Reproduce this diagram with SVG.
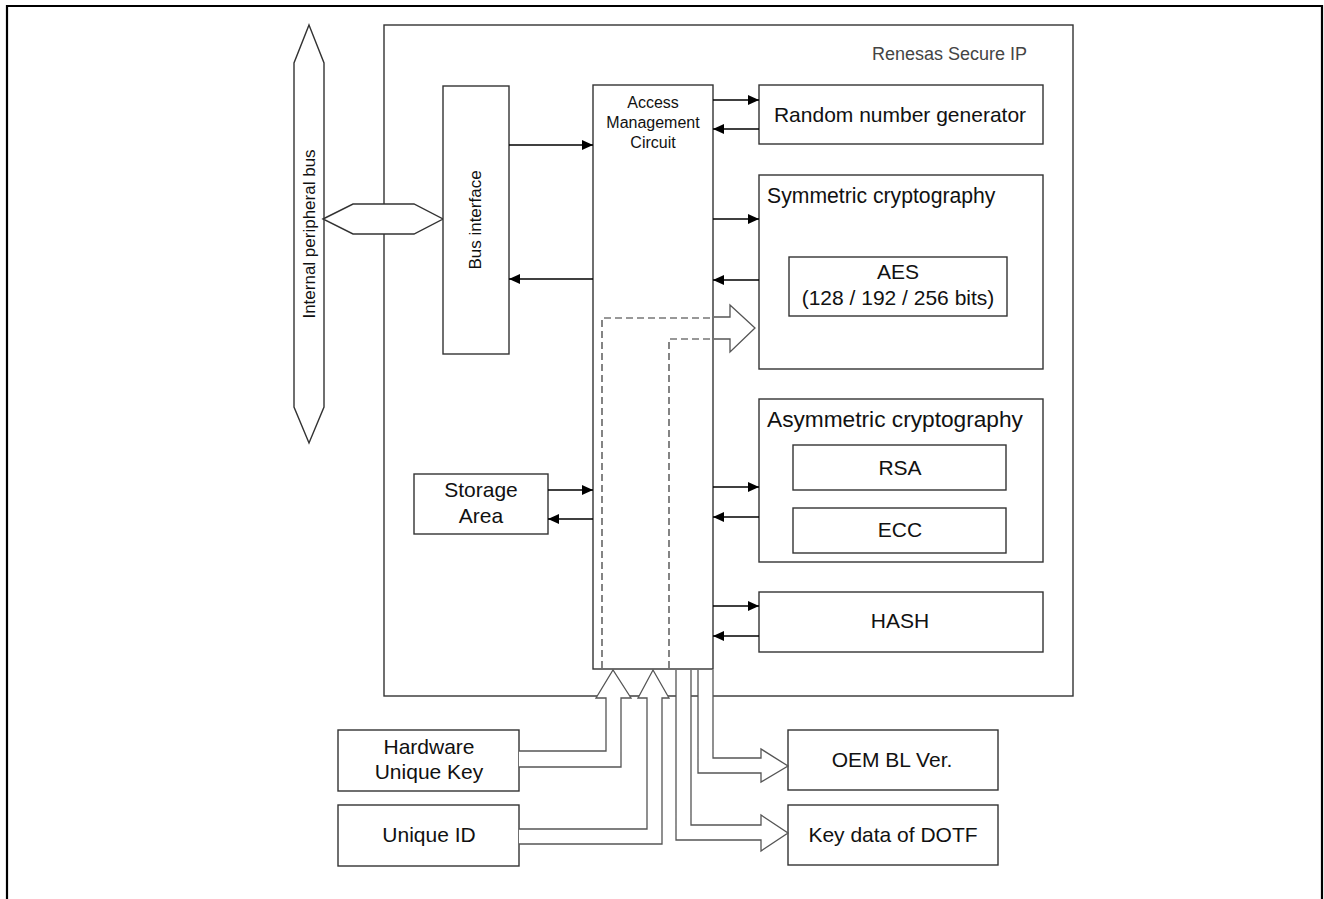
<svg xmlns="http://www.w3.org/2000/svg" width="1324" height="899" viewBox="0 0 1324 899">
<style>
.box{fill:#fff;stroke:#333;stroke-width:1.4}
.frame{fill:none;stroke:#000;stroke-width:2.2}
.t{font-family:"Liberation Sans",Arial,sans-serif;fill:#111;font-size:21px}
.c{text-anchor:middle}
.con{fill:none;stroke:#000;stroke-width:1.3}
.hol{fill:#fff;stroke:#555;stroke-width:1.3}
.dash{fill:none;stroke:#333;stroke-width:1.2;stroke-dasharray:7 4}
</style>
<defs>
<marker id="ah" markerUnits="userSpaceOnUse" markerWidth="12" markerHeight="10" refX="11" refY="5" orient="auto">
<path d="M0,0 L11,5 L0,10 z" fill="#000"/>
</marker>
</defs>
<rect width="1324" height="899" fill="#fff"/>
<path class="frame" d="M7,899 V6 H1322 V899"/>

<g id="secure-ip">
<rect class="box" x="384" y="25" width="689" height="671"/>
<text class="t" x="1027" y="60" text-anchor="end" style="fill:#444;font-size:18px">Renesas Secure IP</text>
</g>

<g id="internal-bus">
<polygon class="box" points="309,25 324,63 324,407 309,443 294,407 294,63"/>
<text class="t c" transform="translate(309,234) rotate(-90)" dominant-baseline="central" style="font-size:17px">Internal peripheral bus</text>
</g>

<g id="bus-link">
<polygon class="box" points="323,219 353,204 414,204 443,219 414,234 353,234"/>
</g>

<g id="bus-interface">
<rect class="box" x="443" y="86" width="66" height="268"/>
<text class="t c" transform="translate(475,220) rotate(-90)" dominant-baseline="central" style="font-size:17px">Bus interface</text>
</g>

<g id="amc">
<rect class="box" x="593" y="85" width="120" height="584"/>
<text class="t c" x="653" y="108" style="font-size:16px">Access</text>
<text class="t c" x="653" y="128" style="font-size:16px">Management</text>
<text class="t c" x="653" y="148" style="font-size:16px">Circuit</text>
</g>

<g id="rng">
<rect class="box" x="759" y="85" width="284" height="59"/>
<text class="t c" x="900" y="122">Random number generator</text>
</g>

<g id="symmetric">
<rect class="box" x="759" y="175" width="284" height="194"/>
<text class="t" x="767" y="203" style="font-size:21.2px">Symmetric cryptography</text>
</g>

<g id="aes">
<rect class="box" x="789" y="257" width="218" height="59"/>
<text class="t c" x="898" y="279">AES</text>
<text class="t c" x="898" y="305">(128 / 192 / 256 bits)</text>
</g>

<g id="asymmetric">
<rect class="box" x="759" y="399" width="284" height="163"/>
<text class="t" x="767" y="427" style="font-size:22.7px">Asymmetric cryptography</text>
</g>

<g id="rsa">
<rect class="box" x="793" y="445" width="213" height="45"/>
<text class="t c" x="900" y="475">RSA</text>
</g>

<g id="ecc">
<rect class="box" x="793" y="508" width="213" height="45"/>
<text class="t c" x="900" y="537">ECC</text>
</g>

<g id="hash">
<rect class="box" x="759" y="592" width="284" height="60"/>
<text class="t c" x="900" y="628">HASH</text>
</g>

<g id="storage">
<rect class="box" x="414" y="474" width="134" height="60"/>
<text class="t c" x="481" y="497">Storage</text>
<text class="t c" x="481" y="523">Area</text>
</g>

<g id="huk">
<rect class="box" x="338" y="730" width="181" height="61"/>
<text class="t c" x="429" y="754">Hardware</text>
<text class="t c" x="429" y="779">Unique Key</text>
</g>

<g id="uid">
<rect class="box" x="338" y="805" width="181" height="61"/>
<text class="t c" x="429" y="842">Unique ID</text>
</g>

<g id="oem">
<rect class="box" x="788" y="730" width="210" height="60"/>
<text class="t c" x="892" y="767">OEM BL Ver.</text>
</g>

<g id="dotf">
<rect class="box" x="788" y="805" width="210" height="60"/>
<text class="t c" x="893" y="842">Key data of DOTF</text>
</g>

<g id="connectors">
<path class="con" d="M509,145 H593" marker-end="url(#ah)"/>
<path class="con" d="M593,279 H509" marker-end="url(#ah)"/>
<path class="con" d="M713,100 H759" marker-end="url(#ah)"/>
<path class="con" d="M759,129 H713" marker-end="url(#ah)"/>
<path class="con" d="M713,219 H759" marker-end="url(#ah)"/>
<path class="con" d="M759,280 H713" marker-end="url(#ah)"/>
<path class="con" d="M713,487 H759" marker-end="url(#ah)"/>
<path class="con" d="M759,517 H713" marker-end="url(#ah)"/>
<path class="con" d="M713,606 H759" marker-end="url(#ah)"/>
<path class="con" d="M759,636 H713" marker-end="url(#ah)"/>
<path class="con" d="M548,490 H593" marker-end="url(#ah)"/>
<path class="con" d="M593,519 H548" marker-end="url(#ah)"/>
<path class="dash" d="M602,668 V318 H712"/>
<path class="dash" d="M669,668 V339 H712"/>
<path class="hol" d="M714,317 H730 V305 L755,328 L730,352 V339 H714"/>
<path class="hol" d="M519,751 H606 V698 H596 L613,670 L631,698 H621 V767 H519"/>
<path class="hol" d="M519,829 H647 V698 H638 L653,670 L669,698 H662 V844 H519"/>
<path class="hol" d="M698,670 V773 H761 V782 L788,766 L761,749 V758 H713 V670"/>
<path class="hol" d="M676,670 V840 H761 V851 L788,833 L761,815 V825 H691 V670"/>
</g>
</svg>
